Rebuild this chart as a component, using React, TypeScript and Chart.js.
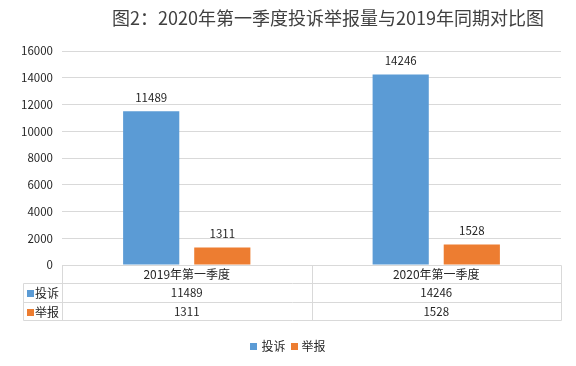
import React, { useEffect, useRef } from "react";
import { Chart, registerables } from "chart.js";

Chart.register(...registerables);

const chartTitle = "图2：2020年第一季度投诉举报量与2019年同期对比图";
const categories = ["2019年第一季度", "2020年第一季度"];
const seriesNames = ["投诉", "举报"];
const complaints = [11489, 14246];
const reports = [1311, 1528];
const yMin = 0;
const yMax = 16000;
const yStep = 2000;
const seriesColors = ["#5B9BD5", "#ED7D31"];

const FONT = '"Noto Sans CJK SC", "Noto Sans", sans-serif';

const overlayPlugin = {
  id: "overlay",
  afterDraw(chart: any) {
    const ctx = chart.ctx as CanvasRenderingContext2D;
    const area = chart.chartArea;
    const seriesValues = [complaints, reports];
    ctx.save();

    // Title
    ctx.fillStyle = "#404040";
    ctx.font = `18px ${FONT}`;
    ctx.textAlign = "center";
    ctx.textBaseline = "middle";
    ctx.fillText(chartTitle, 328, 18);

    // Data labels
    ctx.font = `11.5px ${FONT}`;
    ctx.fillStyle = "#262626";
    chart.data.datasets.forEach((ds: any, di: number) => {
      const meta = chart.getDatasetMeta(di);
      meta.data.forEach((bar: any, i: number) => {
        ctx.fillText(String(ds.data[i]), bar.x, bar.y - 14);
      });
    });

    // Table
    const n = categories.length;
    const left = area.left;
    const right = area.right;
    const catW = (right - left) / n;
    const top = area.bottom;
    const rowH = 18.4;
    const labelLeft = 23;
    const rows = [top, top + rowH, top + 2 * rowH, top + 3 * rowH].map(
      (v) => Math.round(v) + 0.5
    );
    ctx.strokeStyle = "#D9D9D9";
    ctx.lineWidth = 1;
    ctx.beginPath();
    ctx.moveTo(Math.round(left) + 0.5, rows[0]);
    ctx.lineTo(Math.round(right) + 0.5, rows[0]);
    for (let r = 1; r < rows.length; r++) {
      ctx.moveTo(labelLeft + 0.5, rows[r]);
      ctx.lineTo(Math.round(right) + 0.5, rows[r]);
    }
    ctx.moveTo(labelLeft + 0.5, rows[1]);
    ctx.lineTo(labelLeft + 0.5, rows[3]);
    for (let c = 0; c <= n; c++) {
      const x = Math.round(left + c * catW) + 0.5;
      ctx.moveTo(x, rows[0]);
      ctx.lineTo(x, rows[3]);
    }
    ctx.stroke();

    ctx.fillStyle = "#262626";
    ctx.textAlign = "center";
    ctx.textBaseline = "middle";
    for (let c = 0; c < n; c++) {
      const cx = left + (c + 0.5) * catW;
      ctx.font = `12px ${FONT}`;
      ctx.fillText(categories[c], cx, (rows[0] + rows[1]) / 2);
      ctx.font = `11.5px ${FONT}`;
      for (let s = 0; s < seriesNames.length; s++) {
        ctx.fillText(
          String(seriesValues[s][c]),
          cx,
          (rows[s + 1] + rows[s + 2]) / 2
        );
      }
    }
    ctx.textAlign = "left";
    ctx.font = `12px ${FONT}`;
    for (let s = 0; s < seriesNames.length; s++) {
      const cy = (rows[s + 1] + rows[s + 2]) / 2;
      ctx.fillStyle = seriesColors[s];
      ctx.fillRect(27, Math.round(cy) - 3, 7, 7);
      ctx.fillStyle = "#262626";
      ctx.fillText(seriesNames[s], 35, cy + 0.5);
    }

    // Legend
    ctx.font = `12px ${FONT}`;
    const widths = seriesNames.map((t) => ctx.measureText(t).width);
    const sq = 7;
    const gap = 4;
    const itemGap = 5;
    const total =
      widths.reduce((a, w) => a + sq + gap + w, 0) + itemGap * (n - 1);
    let lx = 288 - total / 2;
    const ly = 346;
    for (let s = 0; s < seriesNames.length; s++) {
      ctx.fillStyle = seriesColors[s];
      ctx.fillRect(Math.round(lx), ly - 3, sq, sq);
      lx += sq + gap;
      ctx.fillStyle = "#262626";
      ctx.fillText(seriesNames[s], lx, ly + 0.5);
      lx += widths[s] + itemGap;
    }

    ctx.restore();
  },
};

export default function App() {
  const canvasRef = useRef<HTMLCanvasElement | null>(null);

  useEffect(() => {
    if (!canvasRef.current) return;
    const chart = new Chart(canvasRef.current, {
      type: "bar",
      data: {
        labels: categories,
        datasets: [
          {
            label: seriesNames[0],
            data: complaints,
            backgroundColor: seriesColors[0],
            categoryPercentage: 0.57,
            barPercentage: 0.79,
          },
          {
            label: seriesNames[1],
            data: reports,
            backgroundColor: seriesColors[1],
            categoryPercentage: 0.57,
            barPercentage: 0.79,
          },
        ],
      },
      options: {
        responsive: false,
        animation: false,
        layout: { padding: { top: 51, right: 15, bottom: 101, left: 0 } },
        plugins: {
          legend: { display: false },
          title: { display: false },
          tooltip: { enabled: false },
        },
        scales: {
          x: { display: false },
          y: {
            min: yMin,
            max: yMax,
            ticks: {
              stepSize: yStep,
              padding: 9,
              color: "#262626",
              font: { family: FONT, size: 11.5 },
              callback: (v: any) => String(v),
            },
            border: { display: false },
            grid: { color: "#D9D9D9", drawTicks: false },
            afterFit(scale: any) {
              scale.width = 62;
            },
          },
        },
      },
      plugins: [overlayPlugin],
    });
    return () => chart.destroy();
  }, []);

  return (
    <div style={{ position: "absolute", left: 0, top: 0, width: 576, height: 366, background: "#fff" }}>
      <canvas ref={canvasRef} width={576} height={366} />
    </div>
  );
}
